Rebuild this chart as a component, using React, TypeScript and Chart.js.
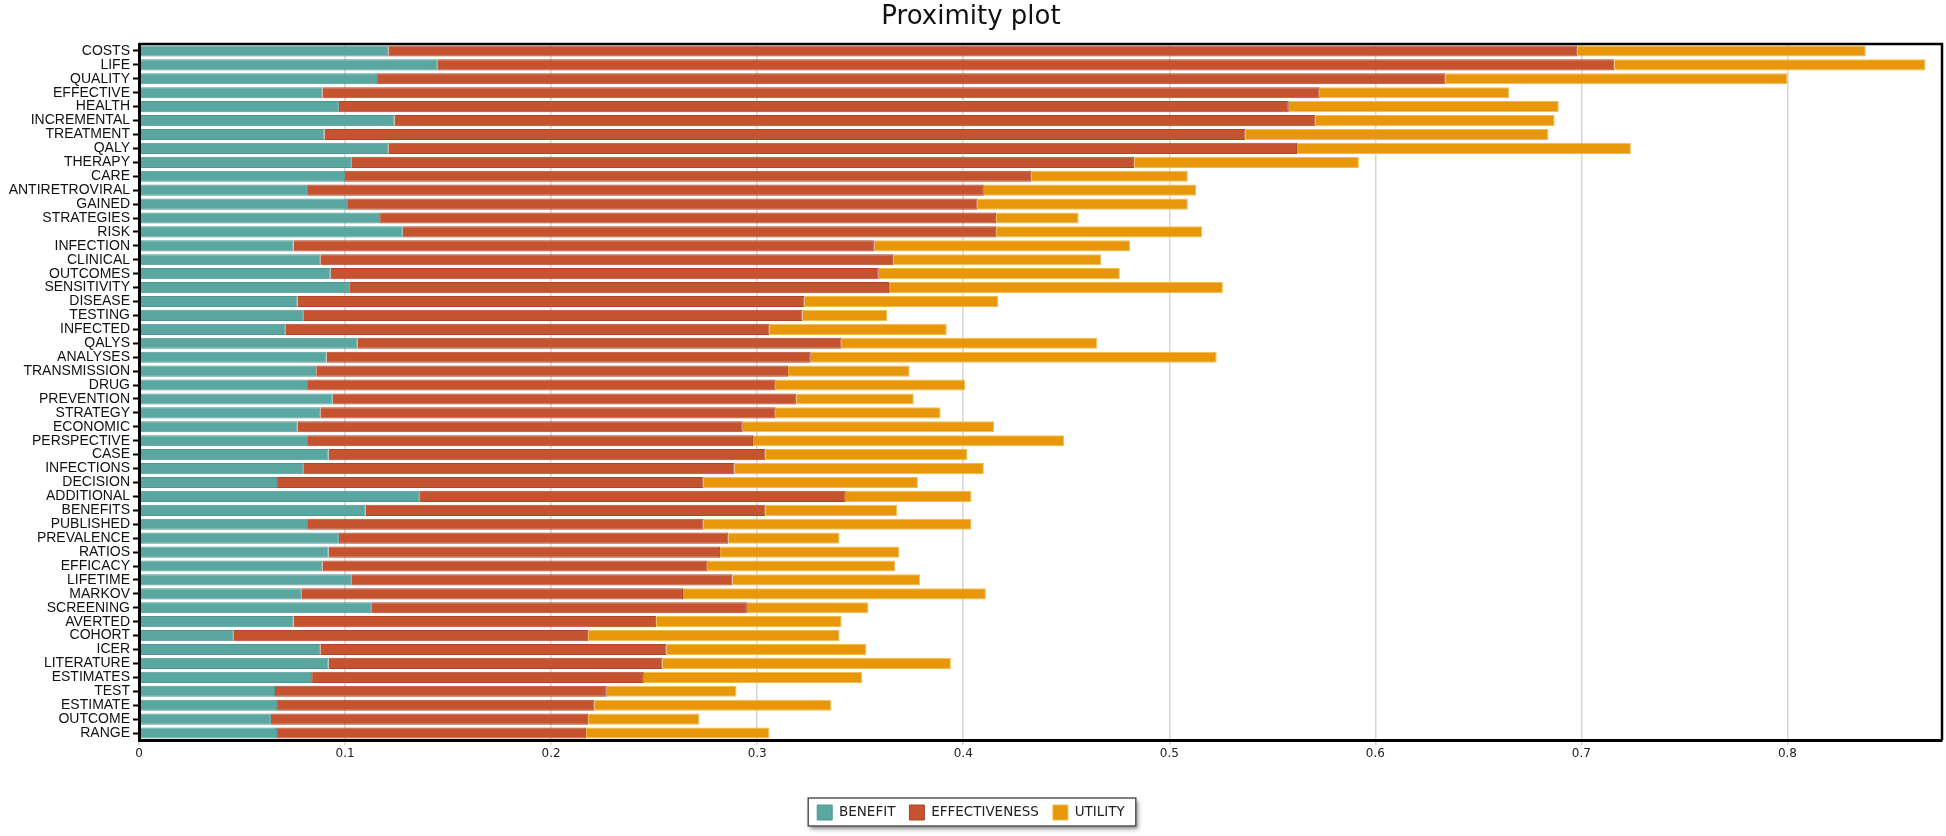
import React, { useEffect, useRef } from "react";
import { Chart, registerables } from "chart.js";

Chart.register(...registerables);

const categories = [
  "COSTS", "LIFE", "QUALITY", "EFFECTIVE", "HEALTH", "INCREMENTAL", "TREATMENT", "QALY",
  "THERAPY", "CARE", "ANTIRETROVIRAL", "GAINED", "STRATEGIES", "RISK", "INFECTION", "CLINICAL",
  "OUTCOMES", "SENSITIVITY", "DISEASE", "TESTING", "INFECTED", "QALYS", "ANALYSES", "TRANSMISSION",
  "DRUG", "PREVENTION", "STRATEGY", "ECONOMIC", "PERSPECTIVE", "CASE", "INFECTIONS", "DECISION",
  "ADDITIONAL", "BENEFITS", "PUBLISHED", "PREVALENCE", "RATIOS", "EFFICACY", "LIFETIME", "MARKOV",
  "SCREENING", "AVERTED", "COHORT", "ICER", "LITERATURE", "ESTIMATES", "TEST", "ESTIMATE",
  "OUTCOME", "RANGE",
];

const benefit = [
  0.121, 0.145, 0.116, 0.089, 0.097, 0.124, 0.090, 0.121,
  0.103, 0.100, 0.082, 0.101, 0.117, 0.128, 0.075, 0.088,
  0.093, 0.102, 0.077, 0.080, 0.071, 0.106, 0.091, 0.086,
  0.082, 0.094, 0.088, 0.077, 0.082, 0.092, 0.080, 0.067,
  0.136, 0.110, 0.082, 0.097, 0.092, 0.089, 0.103, 0.079,
  0.113, 0.075, 0.046, 0.088, 0.092, 0.084, 0.066, 0.067,
  0.064, 0.067,
];

const effectiveness = [
  0.577, 0.571, 0.518, 0.484, 0.461, 0.447, 0.447, 0.441,
  0.380, 0.333, 0.328, 0.306, 0.299, 0.288, 0.282, 0.278,
  0.266, 0.262, 0.246, 0.242, 0.235, 0.235, 0.235, 0.229,
  0.227, 0.225, 0.221, 0.216, 0.216, 0.212, 0.209, 0.207,
  0.207, 0.194, 0.192, 0.189, 0.190, 0.187, 0.185, 0.185,
  0.182, 0.176, 0.172, 0.168, 0.162, 0.161, 0.161, 0.154,
  0.154, 0.150,
];

const utility = [
  0.140, 0.151, 0.166, 0.092, 0.131, 0.116, 0.147, 0.162,
  0.109, 0.076, 0.103, 0.102, 0.040, 0.100, 0.124, 0.101,
  0.117, 0.162, 0.094, 0.041, 0.086, 0.124, 0.197, 0.059,
  0.092, 0.057, 0.080, 0.122, 0.151, 0.098, 0.121, 0.104,
  0.061, 0.064, 0.130, 0.054, 0.087, 0.091, 0.091, 0.147,
  0.059, 0.090, 0.122, 0.097, 0.140, 0.106, 0.063, 0.115,
  0.054, 0.089,
];

const seriesNames = ["BENEFIT", "EFFECTIVENESS", "UTILITY"];
const tickLabels = ["0", "0.1", "0.2", "0.3", "0.4", "0.5", "0.6", "0.7", "0.8"];

const framePlugin = {
  id: "plotFrame",
  afterDatasetsDraw(chart: any) {
    const { ctx, chartArea } = chart;
    const { left, right, top, bottom } = chartArea;
    ctx.save();
    ctx.strokeStyle = "#000";
    ctx.lineWidth = 2.5;
    ctx.beginPath();
    ctx.moveTo(left, top);
    ctx.lineTo(right, top);
    ctx.lineTo(right, bottom);
    ctx.stroke();
    ctx.restore();
  },
};

const legendFramePlugin = {
  id: "legendFrame",
  beforeDraw(chart: any) {
    const lg = chart.legend;
    const boxes = lg && lg.legendHitBoxes;
    if (!boxes || !boxes.length) return;
    const ctx = chart.ctx;
    const l = Math.min(...boxes.map((b: any) => b.left)) - 9;
    const r = Math.max(...boxes.map((b: any) => b.left + b.width)) + 11;
    const t = Math.min(...boxes.map((b: any) => b.top)) - 7;
    const bt = Math.max(...boxes.map((b: any) => b.top + b.height)) + 6;
    ctx.save();
    ctx.shadowColor = "rgba(0,0,0,0.45)";
    ctx.shadowBlur = 4;
    ctx.shadowOffsetX = 2;
    ctx.shadowOffsetY = 3;
    ctx.fillStyle = "#fff";
    ctx.fillRect(l, t, r - l, bt - t);
    ctx.restore();
    ctx.save();
    ctx.strokeStyle = "#555";
    ctx.lineWidth = 1.5;
    ctx.strokeRect(l, t, r - l, bt - t);
    ctx.restore();
  },
};

export default function App() {
  const canvasRef = useRef<HTMLCanvasElement | null>(null);

  useEffect(() => {
    if (!canvasRef.current) return;
    const colors = ["#5aa6a1", "#c5532f", "#e79709"];
    const borders = ["#4d9792", "#ad4526", "#f0bd4a"];
    const values = [benefit, effectiveness, utility];
    const chart = new Chart(canvasRef.current, {
      type: "bar",
      data: {
        labels: categories,
        datasets: seriesNames.map((name, i) => ({
          label: name,
          data: values[i],
          backgroundColor: colors[i],
          borderColor: borders[i],
          borderWidth: 1,
          categoryPercentage: 1,
          barPercentage: 0.8,
        })),
      },
      options: {
        indexAxis: "y",
        animation: false,
        responsive: false,
        maintainAspectRatio: false,
        layout: { padding: { left: 0, right: 4, top: 0, bottom: 6 } },
        plugins: {
          title: {
            display: true,
            text: "Proximity plot",
            color: "#111",
            font: { family: "'DejaVu Sans', sans-serif", size: 26, weight: "normal" },
            padding: { top: 2, bottom: 10.8 },
          },
          legend: {
            display: true,
            position: "bottom",
            labels: {
              boxWidth: 15,
              boxHeight: 15,
              padding: 14,
              color: "#222",
              font: { family: "'DejaVu Sans', sans-serif", size: 13.5 },
            },
          },
          tooltip: { enabled: false },
        },
        scales: {
          x: {
            stacked: true,
            min: 0,
            max: 0.875,
            afterFit: (scale: any) => {
              scale.height = 51;
            },
            ticks: {
              stepSize: 0.1,
              includeBounds: false,
              padding: 2,
              color: "#222",
              font: { family: "'DejaVu Sans', sans-serif", size: 12 },
              callback: (_v: any, idx: number) => tickLabels[idx] ?? "",
            },
            grid: {
              color: "#d6d6d6",
              lineWidth: 1.5,
              tickLength: 5,
              tickColor: "#d6d6d6",
            },
            border: { display: true, color: "#000", width: 3, z: 1 },
          },
          y: {
            stacked: true,
            afterFit: (scale: any) => {
              scale.width = 139;
            },
            ticks: {
              autoSkip: false,
              padding: 3,
              color: "#111",
              font: { family: "'Liberation Sans', Arial, sans-serif", size: 14 },
            },
            grid: {
              offset: false,
              drawOnChartArea: false,
              drawTicks: true,
              tickLength: 6,
              tickColor: "#000",
              tickWidth: 2,
            },
            border: { display: true, color: "#000", width: 3, z: 1 },
          },
        },
      },
      plugins: [framePlugin, legendFramePlugin],
    } as any);
    return () => chart.destroy();
  }, []);

  return (
    <div style={{ position: "absolute", left: 0, top: 0, width: 1946, height: 836, background: "#fff" }}>
      <canvas ref={canvasRef} width={1946} height={836} style={{ display: "block" }} />
    </div>
  );
}
